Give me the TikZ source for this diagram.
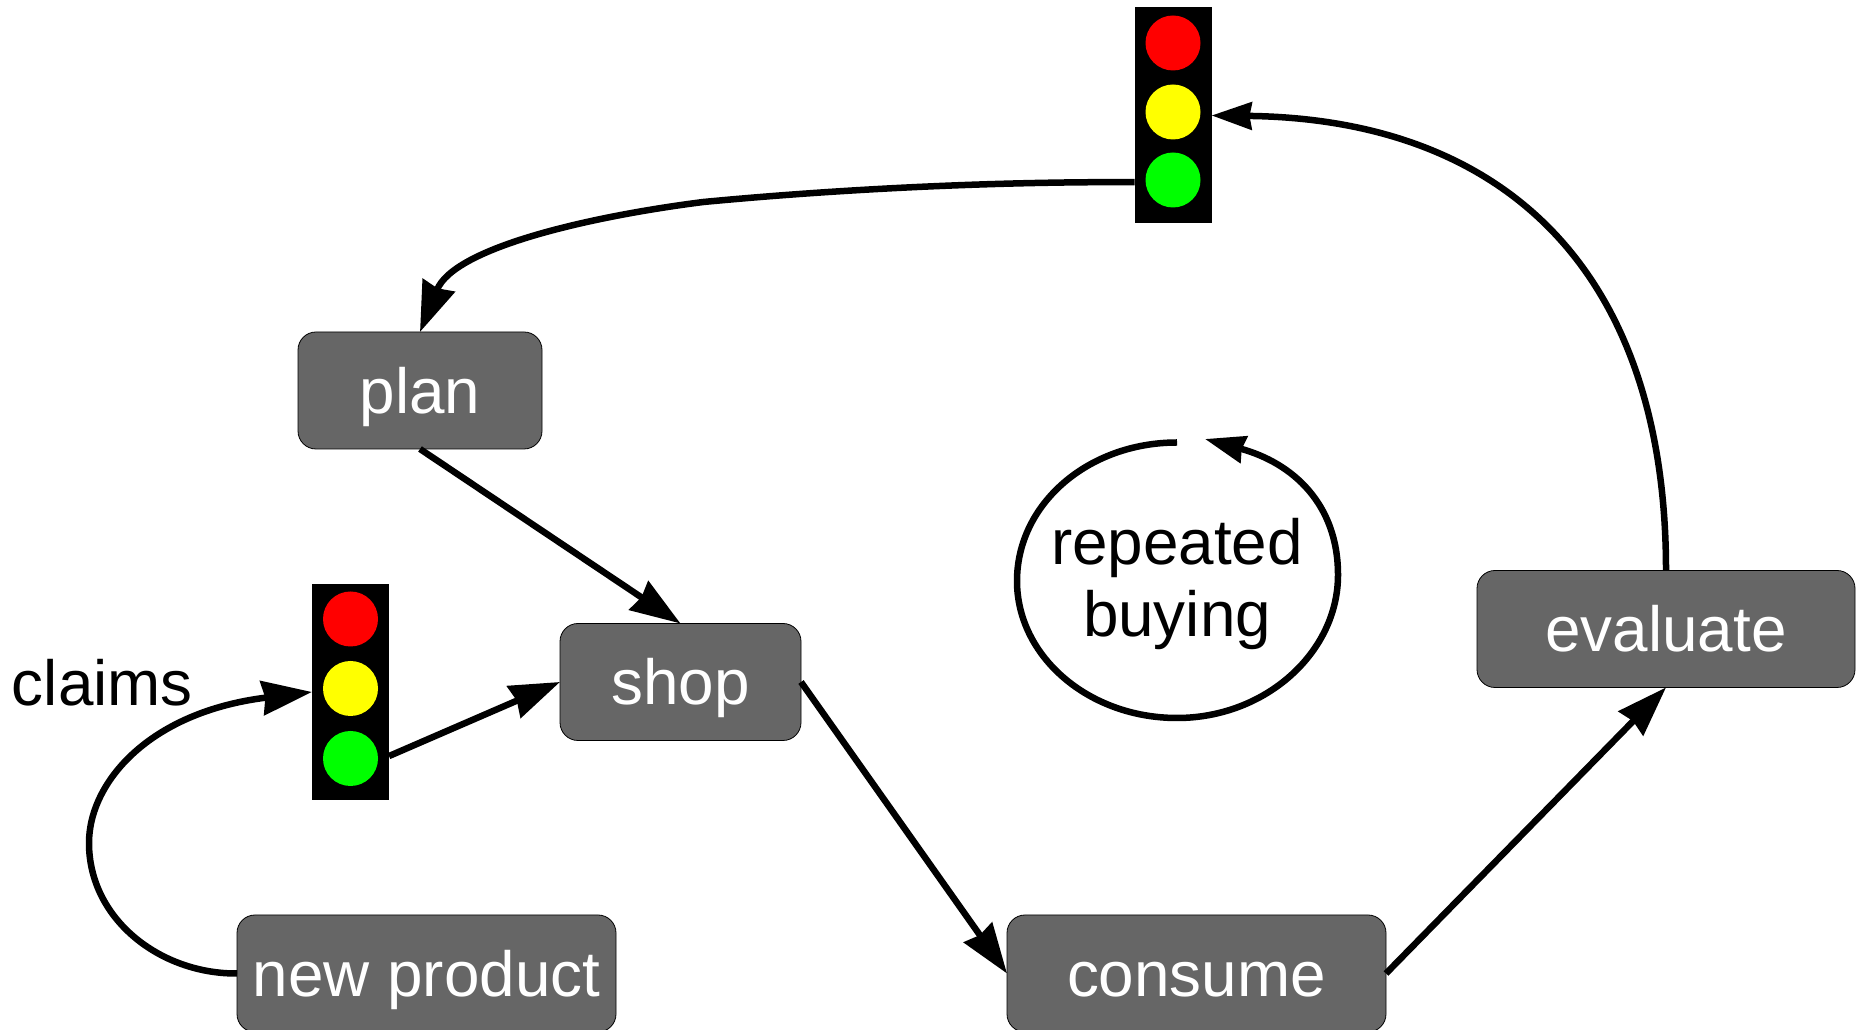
\documentclass[tikz,border=0pt]{standalone}
\usepackage{tikz}
\usepackage{xcolor}
\usepackage{fontspec}
\setmainfont{Liberation Sans}
\usetikzlibrary{arrows.meta}

\tikzset{
  stagebox/.style={draw=black,line width=0.8pt,fill=boxColor,rounded corners=18pt,text=white,
    inner sep=0pt,outer sep=0pt,text height=46pt,text depth=0pt,minimum height=117pt,
    font=\fontsize{63.8}{72}\selectfont},
  lightbody/.style={fill=black,inner sep=0pt,outer sep=0pt,minimum width=77pt,minimum height=216pt},
  lamp/.style={circle,inner sep=0pt,outer sep=0pt,minimum size=55pt},
  plainlabel/.style={inner sep=0pt,outer sep=0pt,font=\fontsize{63.8}{72}\selectfont},
  flow/.style={line width=6.5pt,-{Stealth[length=50pt,width=34pt,inset=3pt]}},
  smallflow/.style={line width=6.5pt,-{Stealth[length=40pt,width=27pt,inset=2pt]}}
}

\begin{document}
\begin{tikzpicture}[x=1pt,y=1pt]
\definecolor{boxColor}{gray}{0.40}
\definecolor{lampRed}{RGB}{255,0,0}
\definecolor{lampYellow}{RGB}{255,255,0}
\definecolor{lampGreen}{RGB}{0,255,0}
\useasboundingbox (0,0) rectangle (1860,1030);

\node[stagebox,minimum width=244pt] (plan) at (420,639.5) {plan};
\node[stagebox,minimum width=241pt] (shop) at (680.5,348) {shop};
\node[stagebox,minimum width=379pt] (newproduct) at (426.5,56.5) {new product};
\node[stagebox,minimum width=379pt] (consume) at (1196.5,56.5) {consume};
\node[stagebox,minimum width=378pt] (evaluate) at (1666,401) {evaluate};

\node[lightbody] (lighttop) at (1173,914.5) {};
\node[lamp,fill=lampRed] (redtop) at (1173,987) {};
\node[lamp,fill=lampYellow] (yellowtop) at (1173,918) {};
\node[lamp,fill=lampGreen] (greentop) at (1173,850) {};

\node[lightbody] (lightclaims) at (350.5,338) {};
\node[lamp,fill=lampRed] (redclaims) at (350.5,411) {};
\node[lamp,fill=lampYellow] (yellowclaims) at (350.5,341.5) {};
\node[lamp,fill=lampGreen] (greenclaims) at (350.5,271.5) {};

\node[plainlabel,anchor=base west] (claims) at (12,324) {claims};
\node[plainlabel,align=center] (repeatlabel) at (1177,446) {repeated\\buying};

\draw[flow] (plan.south) -- (shop.north);
\draw[flow] (shop.east) -- (consume.west);
\draw[flow] (consume.east) -- (evaluate.south);
\draw[flow] (lightclaims.-59) -- (shop.west);

\draw[smallflow] (evaluate.north) .. controls (1666,757) and (1506.5,911) .. (lighttop.east);
\draw[flow] (lighttop.240) .. controls (984.6,848.5) and (830,840) .. (703.4,828)
	.. controls (593,814) and (454.3,783) .. (plan.north);

\draw[flow] (newproduct.west) .. controls (160,56) and (89,111) .. (89,187)
	.. controls (89,247) and (148.3,318) .. (lightclaims.west);

\coordinate (loopstart) at (1177,587.5);
\coordinate (loopend) at (1205,591);
\draw[smallflow] (loopstart) .. controls (1088,587.5) and (1017,526) .. (1017,449)
	.. controls (1017,374) and (1088,312) .. (1177,312)
	.. controls (1266,312) and (1338,378) .. (1338,455)
	.. controls (1338,526) and (1293,567) .. (loopend);
\end{tikzpicture}
\end{document}
